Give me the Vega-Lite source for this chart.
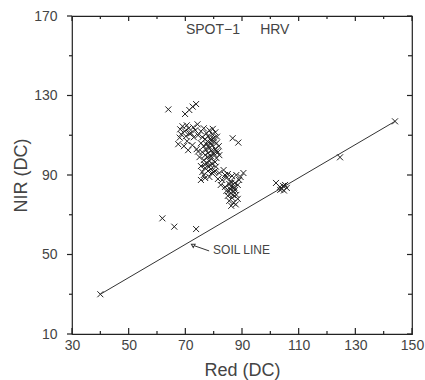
{
  "$schema": "https://vega.github.io/schema/vega-lite/v6.json",
  "width": 340,
  "height": 318,
  "autosize": {"type": "none"},
  "padding": {"left": 72, "top": 16, "right": 13, "bottom": 46},
  "background": "white",
  "config": {
    "view": {"stroke": "#222", "strokeWidth": 1.2},
    "font": "Liberation Sans",
    "axis": {"labelFont": "Liberation Sans", "titleFont": "Liberation Sans", "labelColor": "#444", "titleColor": "#444", "titleFontWeight": "normal", "domain": false, "ticks": false, "grid": false, "labelFontSize": 14, "titleFontSize": 18}
  },
  "datasets": {
    "pts": [
      {"red": 40, "nir": 30}, {"red": 144, "nir": 117},
      {"red": 64, "nir": 123}, {"red": 69.9, "nir": 120.7}, {"red": 71.4, "nir": 122.7}, {"red": 72.6, "nir": 124.4}, {"red": 73.8, "nir": 125.7},
      {"red": 68.2, "nir": 113}, {"red": 69.0, "nir": 114.5}, {"red": 69.8, "nir": 112}, {"red": 70.5, "nir": 115}, {"red": 71.2, "nir": 113.5}, {"red": 72.0, "nir": 111}, {"red": 72.8, "nir": 114}, {"red": 73.5, "nir": 112.5}, {"red": 74.3, "nir": 115.5}, {"red": 68.5, "nir": 110.5}, {"red": 70.2, "nir": 109.5}, {"red": 71.5, "nir": 110.8}, {"red": 73.0, "nir": 109}, {"red": 74.5, "nir": 110}, {"red": 68.0, "nir": 108.8}, {"red": 67.5, "nir": 105.5}, {"red": 69.5, "nir": 104.5}, {"red": 71.0, "nir": 102.5}, {"red": 72.5, "nir": 105}, {"red": 74.0, "nir": 103}, {"red": 70.6, "nir": 107},
      {"red": 75.5, "nir": 112}, {"red": 76.5, "nir": 113.5}, {"red": 77.5, "nir": 111}, {"red": 78.5, "nir": 112.5}, {"red": 79.5, "nir": 110.5}, {"red": 76, "nir": 109}, {"red": 77, "nir": 108}, {"red": 78, "nir": 109.5}, {"red": 79, "nir": 107.5}, {"red": 80, "nir": 108.5}, {"red": 81, "nir": 106}, {"red": 75.5, "nir": 106}, {"red": 76.5, "nir": 104.5}, {"red": 77.5, "nir": 105.5}, {"red": 78.5, "nir": 103.5}, {"red": 79.5, "nir": 105}, {"red": 80.5, "nir": 103}, {"red": 81.5, "nir": 101.5}, {"red": 76, "nir": 101.5}, {"red": 77, "nir": 100}, {"red": 78, "nir": 101}, {"red": 79, "nir": 99.5}, {"red": 80, "nir": 100.5}, {"red": 81, "nir": 98.5}, {"red": 82, "nir": 100}, {"red": 76.5, "nir": 97.5}, {"red": 77.5, "nir": 96}, {"red": 78.5, "nir": 97}, {"red": 79.5, "nir": 95.5}, {"red": 80.5, "nir": 96.5}, {"red": 77, "nir": 93.5}, {"red": 78, "nir": 92}, {"red": 79, "nir": 93}, {"red": 80, "nir": 91.5}, {"red": 76.5, "nir": 90}, {"red": 75.5, "nir": 94.5}, {"red": 78.5, "nir": 89}, {"red": 77.8, "nir": 106.8}, {"red": 79.2, "nir": 102.2}, {"red": 80.8, "nir": 94.2}, {"red": 75, "nir": 99}, {"red": 81.8, "nir": 104.5}, {"red": 74.5, "nir": 101.8}, {"red": 79.7, "nir": 113.2}, {"red": 80.6, "nir": 111.5}, {"red": 75.5, "nir": 87.5}, {"red": 77, "nir": 88.5}, {"red": 76, "nir": 91.5},
      {"red": 78.2, "nir": 104.6}, {"red": 79.1, "nir": 98.3}, {"red": 78.7, "nir": 95.2}, {"red": 79.8, "nir": 101.3}, {"red": 77.3, "nir": 102.7}, {"red": 78.9, "nir": 106.2}, {"red": 80.2, "nir": 106.9}, {"red": 77.9, "nir": 99}, {"red": 78.3, "nir": 94.1}, {"red": 79.4, "nir": 91}, {"red": 80.9, "nir": 101.9}, {"red": 76.8, "nir": 95.4}, {"red": 81.2, "nir": 109.3}, {"red": 78.8, "nir": 108.2},
      {"red": 86.7, "nir": 108.5}, {"red": 88.7, "nir": 106.3},
      {"red": 80.5, "nir": 92}, {"red": 82, "nir": 91}, {"red": 83.5, "nir": 92.5}, {"red": 85, "nir": 90.5}, {"red": 86.5, "nir": 89.5}, {"red": 88, "nir": 90}, {"red": 89.5, "nir": 89}, {"red": 90.5, "nir": 91}, {"red": 81.5, "nir": 88}, {"red": 83, "nir": 87.5}, {"red": 84.5, "nir": 88.5}, {"red": 86, "nir": 87}, {"red": 87.5, "nir": 86}, {"red": 82.5, "nir": 85}, {"red": 84, "nir": 84}, {"red": 85.5, "nir": 85.5}, {"red": 87, "nir": 84}, {"red": 88.5, "nir": 85}, {"red": 84.5, "nir": 82}, {"red": 86, "nir": 81}, {"red": 87.5, "nir": 82.5}, {"red": 85, "nir": 79.5}, {"red": 86.5, "nir": 78.5}, {"red": 88, "nir": 80}, {"red": 85.5, "nir": 77}, {"red": 87, "nir": 76}, {"red": 86.2, "nir": 74.5}, {"red": 87.8, "nir": 75.2}, {"red": 88.5, "nir": 78}, {"red": 85.8, "nir": 83}, {"red": 86.8, "nir": 80}, {"red": 84, "nir": 90}, {"red": 89, "nir": 87.5}, {"red": 86.3, "nir": 86.1}, {"red": 87.3, "nir": 83.5}, {"red": 86.1, "nir": 84.3}, {"red": 87.1, "nir": 81.6}, {"red": 85.4, "nir": 81.8},
      {"red": 102, "nir": 86}, {"red": 103.4, "nir": 84}, {"red": 104, "nir": 83}, {"red": 104.5, "nir": 84.5}, {"red": 105.2, "nir": 85}, {"red": 105.8, "nir": 83.5}, {"red": 103.5, "nir": 82.5}, {"red": 104.8, "nir": 82.2}, {"red": 124.6, "nir": 98.9},
      {"red": 61.9, "nir": 68.2}, {"red": 66.1, "nir": 64}, {"red": 73.8, "nir": 62.8}
    ],
    "soil": [{"x1": 40, "y1": 30, "x2": 144, "y2": 117}],
    "arrow": [{"x1": 78.4, "y1": 51.8, "x2": 73.4, "y2": 54.3}],
    "head": [{"x": 72.8, "y": 54.6}],
    "labels": [
      {"x": 70.2, "y": 163, "t": "SPOT−1", "s": 14},
      {"x": 96.4, "y": 163, "t": "HRV", "s": 14},
      {"x": 79.8, "y": 52.3, "t": "SOIL LINE", "s": 12}
    ],
    "xmaj": [{"v": 30}, {"v": 50}, {"v": 70}, {"v": 90}, {"v": 110}, {"v": 130}, {"v": 150}],
    "xmin": [{"v": 40}, {"v": 60}, {"v": 80}, {"v": 100}, {"v": 120}, {"v": 140}],
    "ymaj": [{"v": 10}, {"v": 50}, {"v": 90}, {"v": 130}, {"v": 170}],
    "ymin": [{"v": 30}, {"v": 70}, {"v": 110}, {"v": 150}]
  },
  "layer": [
    {
      "data": {"name": "pts"},
      "mark": {"type": "point", "shape": "M-1,-1L1,1M-1,1L1,-1", "filled": false, "stroke": "#222", "strokeWidth": 1, "size": 36, "opacity": 1},
      "encoding": {
        "x": {"field": "red", "type": "quantitative", "scale": {"domain": [30, 150], "nice": false, "zero": false},
          "axis": {"orient": "bottom", "title": "Red (DC)", "titlePadding": 9, "values": [30, 50, 70, 90, 110, 130, 150],
            "labelPadding": 4, "labelFlush": false, "labelOverlap": false}},
        "y": {"field": "nir", "type": "quantitative", "scale": {"domain": [10, 170], "nice": false, "zero": false},
          "axis": {"orient": "left", "title": "NIR (DC)", "values": [10, 50, 90, 130, 170],
            "labelPadding": 15, "titleX": -51, "titleY": 159, "titleAlign": "center", "titleBaseline": "middle", "titleAngle": 270, "labelFlush": false, "labelOverlap": false}}
      }
    },
    {
      "data": {"name": "soil"},
      "mark": {"type": "rule", "stroke": "#333", "strokeWidth": 1},
      "encoding": {
        "x": {"field": "x1", "type": "quantitative"},
        "y": {"field": "y1", "type": "quantitative"},
        "x2": {"field": "x2"},
        "y2": {"field": "y2"}
      }
    },
    {
      "data": {"name": "arrow"},
      "mark": {"type": "rule", "stroke": "#333", "strokeWidth": 1},
      "encoding": {
        "x": {"field": "x1", "type": "quantitative"},
        "y": {"field": "y1", "type": "quantitative"},
        "x2": {"field": "x2"},
        "y2": {"field": "y2"}
      }
    },
    {
      "data": {"name": "head"},
      "mark": {"type": "point", "shape": "triangle", "filled": false, "stroke": "#333", "strokeWidth": 1, "size": 14, "angle": 300, "opacity": 1},
      "encoding": {
        "x": {"field": "x", "type": "quantitative"},
        "y": {"field": "y", "type": "quantitative"}
      }
    },
    {
      "data": {"name": "labels"},
      "mark": {"type": "text", "align": "left", "baseline": "middle", "color": "#444", "font": "Liberation Sans"},
      "encoding": {
        "x": {"field": "x", "type": "quantitative"},
        "y": {"field": "y", "type": "quantitative"},
        "text": {"field": "t"},
        "size": {"field": "s", "type": "quantitative", "scale": null}
      }
    },
    {
      "data": {"name": "xmaj"},
      "mark": {"type": "tick", "orient": "vertical", "size": 6, "thickness": 1.2, "yOffset": -3, "color": "#222", "opacity": 1},
      "encoding": {"x": {"field": "v", "type": "quantitative"}, "y": {"datum": 10, "type": "quantitative"}}
    },
    {
      "data": {"name": "xmin"},
      "mark": {"type": "tick", "orient": "vertical", "size": 3, "thickness": 1.2, "yOffset": -1.5, "color": "#222", "opacity": 1},
      "encoding": {"x": {"field": "v", "type": "quantitative"}, "y": {"datum": 10, "type": "quantitative"}}
    },
    {
      "data": {"name": "xmaj"},
      "mark": {"type": "tick", "orient": "vertical", "size": 5, "thickness": 1.2, "yOffset": 2.5, "color": "#222", "opacity": 1},
      "encoding": {"x": {"field": "v", "type": "quantitative"}, "y": {"datum": 170, "type": "quantitative"}}
    },
    {
      "data": {"name": "xmin"},
      "mark": {"type": "tick", "orient": "vertical", "size": 3, "thickness": 1.2, "yOffset": 1.5, "color": "#222", "opacity": 1},
      "encoding": {"x": {"field": "v", "type": "quantitative"}, "y": {"datum": 170, "type": "quantitative"}}
    },
    {
      "data": {"name": "ymaj"},
      "mark": {"type": "tick", "orient": "horizontal", "size": 5, "thickness": 1.2, "xOffset": -2.5, "color": "#222", "opacity": 1},
      "encoding": {"y": {"field": "v", "type": "quantitative"}, "x": {"datum": 30, "type": "quantitative"}}
    },
    {
      "data": {"name": "ymin"},
      "mark": {"type": "tick", "orient": "horizontal", "size": 3, "thickness": 1.2, "xOffset": -1.5, "color": "#222", "opacity": 1},
      "encoding": {"y": {"field": "v", "type": "quantitative"}, "x": {"datum": 30, "type": "quantitative"}}
    },
    {
      "data": {"name": "ymaj"},
      "mark": {"type": "tick", "orient": "horizontal", "size": 5, "thickness": 1.2, "xOffset": -2.5, "color": "#222", "opacity": 1},
      "encoding": {"y": {"field": "v", "type": "quantitative"}, "x": {"datum": 150, "type": "quantitative"}}
    },
    {
      "data": {"name": "ymin"},
      "mark": {"type": "tick", "orient": "horizontal", "size": 4, "thickness": 1.2, "xOffset": -2, "color": "#222", "opacity": 1},
      "encoding": {"y": {"field": "v", "type": "quantitative"}, "x": {"datum": 150, "type": "quantitative"}}
    }
  ]
}
